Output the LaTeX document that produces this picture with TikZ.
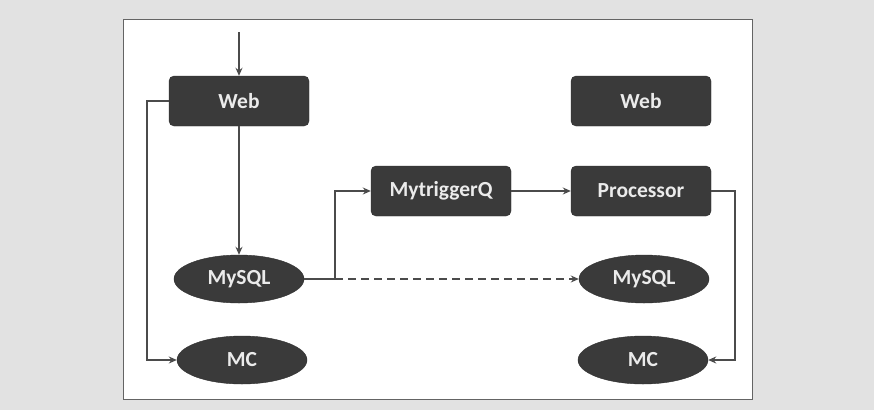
\documentclass[tikz,border=0pt]{standalone}
\usepackage{fontspec}
\setmainfont{Carlito}
\usepackage{tikz}
\usetikzlibrary{shapes.geometric, arrows.meta, positioning, calc}
\definecolor{nodegray}{RGB}{58, 58, 58}
\definecolor{linegray}{RGB}{75, 75, 75}
\definecolor{pagegray}{RGB}{226, 226, 226}
\definecolor{framegray}{RGB}{100, 100, 100}
\tikzstyle{box} = [rectangle, rounded corners=5pt, minimum width=140pt, minimum height=50pt, text centered, draw=nodegray!80!black, fill=nodegray, text=white!92!black, font=\fontsize{21.5}{24}\selectfont\bfseries]
\tikzstyle{store} = [ellipse, minimum width=130pt, minimum height=48pt, inner sep=0pt, text centered, draw=nodegray!80!black, fill=nodegray, text=white!92!black, font=\fontsize{21.5}{24}\selectfont\bfseries]
\tikzstyle{arrow} = [line width=1.7pt, draw=linegray, ->, >={Stealth[length=8pt, width=7pt]}]
\tikzstyle{dasharrow} = [arrow, dash pattern=on 8pt off 5pt]
\begin{document}
\begin{tikzpicture}[x=1pt, y=-1pt]
    % page and frame
    \useasboundingbox (0,0) rectangle (874,410);
    \fill[pagegray] (0,0) rectangle (874,410);
    \draw[framegray, line width=1pt, fill=white] (123,19) rectangle (752,399);

    % left column
    \node[box] (web1) at (239, 101) {Web};
    \node[store] (mysql1) at (239, 279) {MySQL};
    \node[store] (mc1) at (242, 360) {MC};

    % middle and right column
    \node[box] (trigger) at (441, 191) {MytriggerQ};
    \node[box] (web2) at (641, 101) {Web};
    \node[box] (proc) at (641, 191) {Processor};
    \node[store] (mysql2) at (644, 279) {MySQL};
    \node[store] (mc2) at (643, 360) {MC};

    % incoming request
    \coordinate (in) at (239, 32);

    % Connections
    \draw[arrow] (in) -- (web1.north);
    \draw[arrow] (web1.south) -- (mysql1.north);
    \draw[arrow] (web1.west) -- ++(-22, 0) |- (mc1.west);
    \draw[line width=1.7pt, draw=linegray] (mysql1.east) -- ++(31, 0) coordinate (split);
    \draw[arrow] (split) |- (trigger.west);
    \draw[dasharrow] (split) -- (mysql2.west);
    \draw[arrow] (trigger.east) -- (proc.west);
    \draw[arrow] (proc.east) -- ++(24, 0) |- (mc2.east);
\end{tikzpicture}
\end{document}
